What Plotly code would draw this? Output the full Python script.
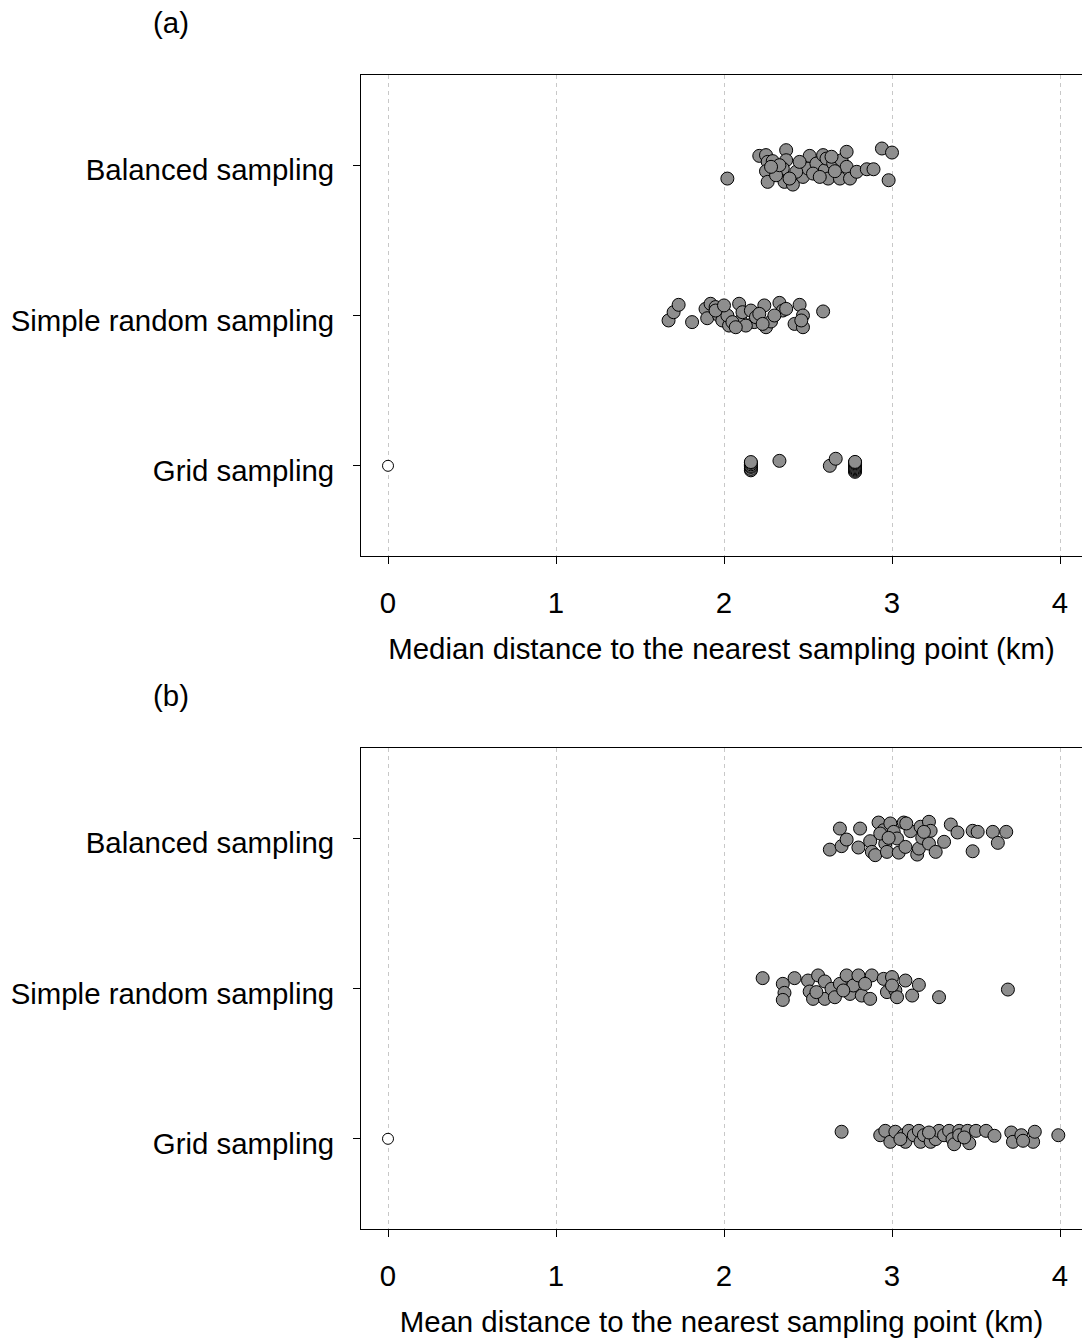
import plotly.graph_objects as go

# ---------------- data ----------------
categories = ["Grid sampling", "Simple random sampling", "Balanced sampling"]
x_ticks = [0, 1, 2, 3, 4]
x_tick_labels = ["0", "1", "2", "3", "4"]

# Panel (a): median distance (km) and vertical jitter (category units)
a_bal_x = [2.02, 2.21, 2.25, 2.26, 2.29, 2.25, 2.26, 2.37, 2.37, 2.35, 2.36, 2.41, 2.47, 2.50,
           2.51, 2.55, 2.59, 2.60, 2.62, 2.61, 2.65, 2.69, 2.70, 2.73, 2.73, 2.75, 2.79, 2.85,
           2.89, 2.94, 3.00, 2.98, 2.43, 2.53, 2.31, 2.33, 2.57, 2.66, 2.39, 2.28, 2.45, 2.64]
a_bal_j = [-0.089, 0.062, 0.067, 0.022, 0.027, -0.040, -0.111, 0.100, 0.033, -0.022, -0.111,
           -0.129, -0.078, -0.022, 0.062, 0.011, 0.067, -0.033, -0.089, 0.044, 0.011, -0.089,
           0.033, 0.089, -0.011, -0.089, -0.044, -0.027, -0.027, 0.111, 0.084, -0.100, -0.044,
           -0.056, -0.067, 0.000, -0.078, -0.040, -0.089, -0.011, 0.022, 0.056]

a_srs_x = [1.67, 1.70, 1.73, 1.81, 1.89, 1.90, 1.92, 1.95, 1.97, 1.99, 2.03, 2.02, 2.09, 2.10,
           2.11, 2.16, 2.18, 2.19, 2.24, 2.25, 2.28, 2.33, 2.35, 2.42, 2.45, 2.47, 2.47, 2.59,
           2.05, 2.13, 2.21, 2.37, 1.95, 2.00, 2.07, 2.23, 2.30, 2.46]
a_srs_j = [-0.033, 0.022, 0.071, -0.044, 0.044, -0.018, 0.078, 0.056, 0.000, -0.033, -0.067,
           0.000, 0.078, -0.033, 0.022, 0.033, -0.044, -0.011, 0.067, -0.078, -0.040, 0.084,
           0.033, -0.056, 0.071, 0.000, -0.078, 0.027, -0.044, -0.067, 0.011, 0.044, 0.033,
           0.067, -0.078, -0.056, 0.000, -0.033]

a_grid_x = [2.16, 2.16, 2.16, 2.16, 2.16, 2.16, 2.16, 2.33, 2.63, 2.665,
            2.78, 2.78, 2.78, 2.78, 2.78, 2.78, 2.78, 2.78, 2.78, 2.78]
a_grid_j = [-0.030, -0.020, -0.007, 0.000, 0.010, 0.020, 0.025, 0.033, 0.000, 0.047,
            -0.040, -0.032, -0.024, -0.016, -0.008, 0.000, 0.008, 0.016, 0.022, 0.026]

# Panel (b): mean distance (km) and vertical jitter
b_bal_x = [2.63, 2.69, 2.70, 2.73, 2.80, 2.81, 2.87, 2.88, 2.90, 2.92, 2.95, 2.96, 2.97, 2.99,
           3.01, 3.03, 3.04, 3.07, 3.08, 3.11, 3.15, 3.16, 3.17, 3.18, 3.22, 3.23, 3.22, 3.26,
           3.31, 3.35, 3.39, 3.48, 3.48, 3.51, 3.60, 3.63, 3.68, 2.93, 3.085, 3.19, 2.98]
b_bal_j = [-0.076, 0.064, -0.053, -0.009, -0.062, 0.064, -0.020, -0.091, -0.113, 0.104, 0.053,
           -0.036, -0.091, 0.098, 0.042, -0.002, -0.096, 0.104, -0.058, 0.047, -0.109, -0.069,
           0.076, 0.002, 0.109, 0.049, -0.036, -0.091, -0.024, 0.091, 0.038, 0.049, -0.087,
           0.042, 0.042, -0.031, 0.042, 0.031, 0.098, 0.042, 0.002]

b_srs_x = [2.23, 2.35, 2.36, 2.35, 2.42, 2.50, 2.51, 2.53, 2.56, 2.60, 2.60, 2.64, 2.66, 2.69,
           2.73, 2.75, 2.77, 2.80, 2.82, 2.87, 2.88, 2.95, 2.97, 3.00, 3.02, 3.03, 3.08, 3.12,
           3.16, 3.28, 3.69, 2.55, 2.71, 2.84, 3.00]
b_srs_j = [0.069, 0.031, -0.029, -0.076, 0.069, 0.053, -0.020, -0.069, 0.087, 0.047, -0.069,
           -0.002, -0.058, 0.031, 0.087, -0.036, 0.020, 0.087, -0.047, -0.069, 0.087, 0.064,
           -0.024, 0.076, -0.013, -0.058, 0.053, -0.047, 0.024, -0.058, -0.007, -0.024, -0.013,
           0.031, 0.020]

b_grid_x = [2.70, 2.93, 2.96, 2.99, 3.02, 3.07, 3.08, 3.10, 3.13, 3.16, 3.17, 3.19, 3.23, 3.26,
            3.28, 3.31, 3.34, 3.36, 3.37, 3.40, 3.40, 3.45, 3.46, 3.50, 3.56, 3.61, 3.71, 3.72,
            3.77, 3.84, 3.85, 3.99, 3.05, 3.22, 3.43, 3.78]
b_grid_j = [0.047, 0.024, 0.053, -0.020, 0.047, 0.024, -0.020, 0.053, 0.024, 0.053, -0.020,
            0.024, -0.020, -0.002, 0.053, 0.024, 0.053, -0.002, -0.036, 0.053, 0.024, 0.053,
            -0.029, 0.053, 0.053, 0.020, 0.042, -0.020, 0.024, -0.020, 0.047, 0.024, -0.002,
            0.042, 0.009, -0.013]

# open reference circle at zero on the grid row
zero_x = [0]
zero_j = [0]

panel_labels = ["(a)", "(b)"]
x_titles = ["Median distance to the nearest sampling point (km)",
            "Mean distance to the nearest sampling point (km)"]

# ---------------- figure ----------------
FONT = "Liberation Sans, Arial, sans-serif"
FS = 29.4
fill = "#8e8e8e"

W, H = 1082.0, 1340.0


def px_x(p):
    return p / W


def px_y(p):
    return (H - p) / H


fig = go.Figure()


def add_panel(xa, ya, sets):
    for xs, js, base in sets:
        fig.add_trace(go.Scatter(
            x=xs, y=[base + j for j in js], mode="markers", xaxis=xa, yaxis=ya,
            marker=dict(size=13, color=fill, line=dict(color="black", width=1)),
            showlegend=False, hoverinfo="skip"))
    fig.add_trace(go.Scatter(
        x=zero_x, y=[1 + j for j in zero_j], mode="markers", xaxis=xa, yaxis=ya,
        marker=dict(size=11, color="white", line=dict(color="black", width=1)),
        showlegend=False, hoverinfo="skip"))


add_panel("x", "y", [(a_grid_x, a_grid_j, 1), (a_srs_x, a_srs_j, 2), (a_bal_x, a_bal_j, 3)])
add_panel("x2", "y2", [(b_grid_x, b_grid_j, 1), (b_srs_x, b_srs_j, 2), (b_bal_x, b_bal_j, 3)])

# plot left edge at 361 px, 0 km at 388 px, 168 px per km, plot runs to the page edge
x_dom = [px_x(361), 1.0]
x_range = [(361 - 388) / 168.0, (W - 388) / 168.0]
ya_dom = [px_y(556), px_y(75)]
yb_dom = [px_y(1229), px_y(748)]


def xaxis(dom_anchor, title):
    return dict(
        domain=x_dom, anchor=dom_anchor, range=x_range,
        tickvals=x_ticks, ticktext=x_tick_labels,
        showline=True, linecolor="black", linewidth=1, mirror=True,
        ticks="outside", ticklen=7, tickcolor="black", tickwidth=1,
        ticklabelstandoff=14,
        showgrid=True, gridcolor="#c8c8c8", gridwidth=1, griddash="4px,4px",
        zeroline=False,
        tickfont=dict(family=FONT, size=FS, color="black"),
        title=dict(text=title, font=dict(family=FONT, size=FS, color="black"), standoff=20),
    )


def yaxis(dom, anchor):
    return dict(
        domain=dom, anchor=anchor, range=[0.4, 3.6],
        tickvals=[1, 2, 3], ticktext=categories,
        showline=True, linecolor="black", linewidth=1, mirror=False,
        ticks="outside", ticklen=7, tickcolor="black", tickwidth=1,
        ticklabelstandoff=13, ticklabelshift=5,
        showgrid=False, zeroline=False,
        tickfont=dict(family=FONT, size=FS, color="black"),
    )


fig.update_layout(
    width=int(W), height=int(H),
    margin=dict(l=0, r=0, t=0, b=0),
    paper_bgcolor="white", plot_bgcolor="white",
    font=dict(family=FONT, size=FS, color="black"),
    xaxis=xaxis("y", x_titles[0]),
    yaxis=yaxis(ya_dom, "x"),
    xaxis2=xaxis("y2", x_titles[1]),
    yaxis2=yaxis(yb_dom, "x2"),
    annotations=[
        dict(text=panel_labels[0], x=px_x(171), y=px_y(22), xref="paper", yref="paper",
             showarrow=False, xanchor="center", yanchor="middle",
             font=dict(family=FONT, size=FS, color="black")),
        dict(text=panel_labels[1], x=px_x(171), y=px_y(695), xref="paper", yref="paper",
             showarrow=False, xanchor="center", yanchor="middle",
             font=dict(family=FONT, size=FS, color="black")),
    ],
)

fig.write_html("out.html", config={"displayModeBar": False},
               post_script="document.body.style.margin='0';")
